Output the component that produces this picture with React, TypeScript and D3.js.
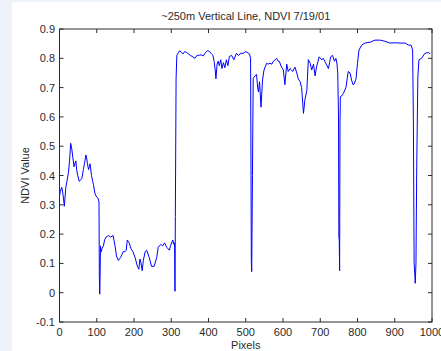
import { useEffect, useRef } from "react";
import * as d3 from "d3";

// samples (pixel index, NDVI)
const pixelIdx = [
  0, 2, 6, 9, 13, 17, 20, 24, 27, 30, 33, 37, 39, 41, 44, 46, 49, 53, 57, 60, 64, 67, 71, 73, 75, 78, 80, 82, 86, 89,
  91, 95, 98, 102, 104, 106, 107, 108, 109, 110, 112, 114, 118, 121, 125, 131, 137, 144, 149, 153, 158, 164, 171,
  176, 179, 182, 187, 192, 197, 203, 209, 213, 216, 219, 222, 225, 230, 234, 241, 247, 254, 261, 265, 272, 277,
  282, 288, 295, 298, 304, 307, 309, 310, 311, 313, 315, 317, 323, 327, 332, 336, 341, 346, 351, 358, 364, 369,
  373, 380, 386, 392, 398, 403, 408, 412, 415, 418, 420, 423, 426, 429, 433, 436, 440, 444, 448, 452, 456, 462,
  468, 475, 480, 487, 493, 500, 506, 510, 513, 515, 516, 518, 520, 525, 529, 532, 534, 537, 541, 545, 549, 556,
  560, 565, 570, 574, 579, 583, 587, 590, 596, 601, 605, 610, 614, 619, 623, 626, 632, 637, 641, 646, 650, 655,
  659, 664, 668, 673, 677, 682, 686, 690, 697, 704, 708, 712, 716, 722, 728, 733, 738, 742, 745, 747, 749, 750,
  751, 752, 753, 754, 758, 762, 769, 775, 780, 784, 788, 791, 796, 800, 804, 811, 820, 834, 847, 861, 874, 887,
  901, 914, 928, 937, 944, 948, 950, 952, 954, 955, 957, 959, 962, 965, 972, 981, 990, 995,
];
const ndvi = [
  0.33, 0.345, 0.36, 0.34, 0.295, 0.36, 0.38, 0.41, 0.45, 0.51, 0.49, 0.45, 0.43, 0.44, 0.45, 0.42, 0.4, 0.38,
  0.385, 0.39, 0.42, 0.44, 0.47, 0.46, 0.44, 0.42, 0.43, 0.44, 0.4, 0.38, 0.37, 0.34, 0.33, 0.325, 0.32, 0.31,
  0.055, -0.005, 0.06, 0.16, 0.14, 0.15, 0.16, 0.18, 0.19, 0.195, 0.19, 0.195, 0.16, 0.125, 0.11, 0.12, 0.14,
  0.14, 0.145, 0.18, 0.17, 0.15, 0.14, 0.12, 0.09, 0.08, 0.115, 0.1, 0.075, 0.11, 0.14, 0.145, 0.12, 0.09, 0.09,
  0.12, 0.155, 0.165, 0.16, 0.17, 0.155, 0.145, 0.16, 0.18, 0.165, 0.17, 0.005, 0.26, 0.73, 0.81, 0.815, 0.826,
  0.82, 0.815, 0.823, 0.82, 0.815, 0.81, 0.805, 0.8, 0.81, 0.81, 0.812, 0.808, 0.82, 0.826, 0.823, 0.815, 0.81,
  0.79, 0.76, 0.73, 0.78, 0.79, 0.775, 0.795, 0.765, 0.785, 0.768, 0.795, 0.775, 0.806, 0.81, 0.795, 0.817, 0.81,
  0.817, 0.817, 0.823, 0.818, 0.815, 0.8, 0.106, 0.072, 0.4, 0.732, 0.74, 0.745, 0.7, 0.686, 0.72, 0.633, 0.726,
  0.76, 0.783, 0.78, 0.783, 0.78, 0.79, 0.795, 0.8, 0.79, 0.79, 0.77, 0.76, 0.71, 0.78, 0.755, 0.765, 0.76, 0.755,
  0.77, 0.75, 0.73, 0.72, 0.7, 0.612, 0.66, 0.69, 0.795, 0.783, 0.76, 0.78, 0.74, 0.77, 0.805, 0.795, 0.8, 0.79,
  0.78, 0.765, 0.805, 0.81, 0.79, 0.8, 0.78, 0.75, 0.6, 0.19, 0.18, 0.075, 0.57, 0.669, 0.672, 0.68, 0.7, 0.755,
  0.75, 0.726, 0.71, 0.712, 0.73, 0.783, 0.828, 0.845, 0.852, 0.855, 0.862, 0.862, 0.858, 0.852, 0.853, 0.852,
  0.852, 0.845, 0.845, 0.828, 0.59, 0.104, 0.06, 0.032, 0.1, 0.43, 0.737, 0.795, 0.8, 0.817, 0.82, 0.815,
];
const xTicks = [0, 100, 200, 300, 400, 500, 600, 700, 800, 900, 1000];
const yTicks = [-0.1, 0, 0.1, 0.2, 0.3, 0.4, 0.5, 0.6, 0.7, 0.8, 0.9];

export default function App() {
  const ref = useRef<SVGSVGElement>(null);

  useEffect(() => {
    const width = 441;
    const height = 351;
    const left = 59.5, right = 432, top = 29, bottom = 322;
    const font = "'Liberation Sans', Arial, sans-serif";
    const ink = "#2a2a2a";

    const svg = d3.select(ref.current);
    svg.selectAll("*").remove();

    svg.append("rect").attr("width", width).attr("height", height).attr("fill", "#edf2fb");
    svg.append("rect").attr("x", 12).attr("y", 2).attr("width", width - 12).attr("height", height - 2).attr("fill", "#fff");

    const x = d3.scaleLinear().domain([0, 1000]).range([left, right]);
    const y = d3.scaleLinear().domain([-0.1, 0.9]).range([bottom, top]);

    const line = d3
      .line<number>()
      .x((_, i) => x(pixelIdx[i]))
      .y((d) => y(d));

    svg
      .append("path")
      .datum(ndvi)
      .attr("d", line)
      .attr("fill", "none")
      .attr("stroke", "#0000ff")
      .attr("stroke-width", 1);

    // box
    svg
      .append("rect")
      .attr("x", left)
      .attr("y", top)
      .attr("width", right - left)
      .attr("height", bottom - top)
      .attr("fill", "none")
      .attr("stroke", ink)
      .attr("stroke-width", 1);

    const tl = 4;
    const g = svg.append("g").attr("stroke", ink).attr("stroke-width", 1);
    xTicks.forEach((t) => {
      g.append("line").attr("x1", x(t)).attr("x2", x(t)).attr("y1", bottom).attr("y2", bottom - tl);
      g.append("line").attr("x1", x(t)).attr("x2", x(t)).attr("y1", top).attr("y2", top + tl);
    });
    yTicks.forEach((t) => {
      g.append("line").attr("x1", left).attr("x2", left + tl).attr("y1", y(t)).attr("y2", y(t));
      g.append("line").attr("x1", right).attr("x2", right - tl).attr("y1", y(t)).attr("y2", y(t));
    });

    const txt = svg.append("g").attr("font-family", font).attr("font-size", 11).attr("fill", ink);
    xTicks.forEach((t) => {
      txt.append("text").attr("x", x(t)).attr("y", 336).attr("text-anchor", "middle").text(String(t));
    });
    yTicks.forEach((t) => {
      txt
        .append("text")
        .attr("x", 55)
        .attr("y", y(t) + 4)
        .attr("text-anchor", "end")
        .text(d3.format(".1f")(t).replace("0.0", "0").replace("−", "-"));
    });

    txt.append("text").attr("x", (left + right) / 2).attr("y", 20).attr("text-anchor", "middle").text("~250m Vertical Line, NDVI 7/19/01");
    txt.append("text").attr("x", (left + right) / 2).attr("y", 349).attr("text-anchor", "middle").text("Pixels");
    txt
      .append("text")
      .attr("transform", `translate(29,${(top + bottom) / 2}) rotate(-90)`)
      .attr("text-anchor", "middle")
      .text("NDVI Value");
  }, []);

  return <svg ref={ref} width={441} height={351} style={{ position: "absolute", left: 0, top: 0 }} />;
}
